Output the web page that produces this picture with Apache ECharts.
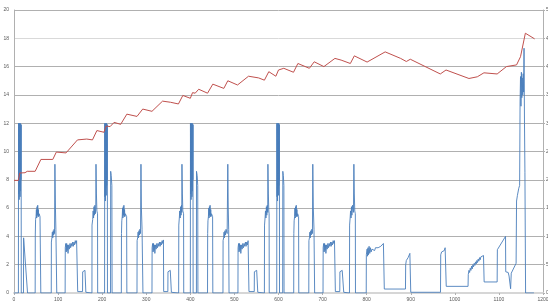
<!DOCTYPE html>
<html>
<head>
<meta charset="utf-8">
<script src="https://cdn.jsdelivr.net/npm/echarts@6/dist/echarts.min.js"></script>
<style>
html, body { margin: 0; padding: 0; background: #fff; }
#chart { width: 548px; height: 307px; }
</style>
</head>
<body>
<div id="chart"></div>
<script>
// tick labels
var leftTicks = [0, 20, 2];      // min, max, step (left axis)
var rightTicks = [0, 50, 5];     // min, max, step (right axis, labels cut off at the edge)
var timeTicks = [0, 1200, 100];

// blue trace, [time s, value] on left axis
var blueSeries = [
    [0,0],[10,0],[10.3,12],[10.8,7],[11.3,11.9],[11.8,6.6],[12.3,12],[12.8,7.5],[13.3,11.9],[13.8,6.8],[14.3,12],[14.8,7.2],[15.3,11.9],[15.8,8],[16.2,11.9],[16.5,0],
    [21.5,0],[21.8,3.9],[30.7,0],
    [48,0],[48.3,4.1],[49,5.2],[50,5.4],[50.8,5.9],[51.5,5.3],[52.3,6.1],[53,5.5],[53.8,6.2],[54.5,5.4],[55.3,5.9],[56,5.4],[57,5.6],[58,5.5],[59,5.4],[60.5,5.4],[60.8,0],
    [84.5,0],[84.8,3.6],[86,3.9],[87,4.3],[88,3.9],[89,4.4],[90,4.1],[91,4.5],[92,4.2],[92.8,9.1],[94,6],[95,4.5],[97,0],
    [116,0],[116.3,3.2],[117.5,3.5],[118.5,2.9],[119.5,3.5],[120.5,3.0],[121.5,3.4],[122.5,2.8],[124,3.4],[125.5,3.1],[127,3.5],[128.5,3.2],[130,3.5],[131.5,3.3],[133,3.6],[134.5,3.3],[136,3.6],[137.5,3.4],[139,3.7],[140.5,3.5],[142,3.7],[144,3.75],[144.5,0.1],
    [155.5,0.1],[155.8,1.5],[157,1.6],[159,1.55],[161,1.6],[162.5,1.5],[163,0.05],
    [176.8,0],[177,4.8],[178.5,5.2],[179.5,5.8],[180.5,5.3],[181.5,6.1],[182.5,5.5],[183.5,6.2],[184.5,5.6],[185.5,6],[186,9.1],[187,7],[188,5.8],[189.5,5.6],[189.8,0],

    [205.5,0],[205.8,12],[206.3,6.8],[206.8,11.9],[207.3,6.5],[207.8,12],[208.3,7.4],[208.8,11.9],[209.3,6.9],[209.8,12],[210.3,7.6],[210.8,11.9],[211.3,8],[211.7,11.9],[212,0],
    [219,0],[219.3,8.6],[220.5,8.3],[222,7.6],[222.5,0],
    [243.5,0],[243.8,4.2],[244.5,5.1],[245.5,5.4],[246.3,6.0],[247,5.3],[247.8,6.1],[248.5,5.5],[249.3,6.2],[250,5.4],[250.8,5.9],[251.5,5.4],[252.5,5.6],[253.5,5.5],[255.5,5.4],[256,0],
    [279,0],[279.3,3.7],[280.5,3.9],[281.5,4.3],[282.5,3.9],[283.5,4.4],[284.5,4.1],[285.5,4.5],[287,4.2],[288,9.1],[289,6],[290.5,4.5],[292.5,0],
    [313,0],[313.3,3.2],[314.5,3.5],[315.5,2.9],[316.5,3.5],[317.5,3.0],[318.5,3.4],[319.5,2.8],[321,3.4],[322.5,3.1],[324,3.5],[325.5,3.2],[327,3.5],[328.5,3.3],[330,3.6],[331.5,3.3],[333,3.6],[334.5,3.4],[336,3.7],[337.5,3.5],[339,3.75],[339.5,0.1],
    [349,0.1],[349.3,1.5],[350.5,1.6],[352.5,1.55],[354.5,1.6],[356.5,1.5],[357,0.05],
    [373.5,0],[373.8,4.8],[375,5.3],[376,5.8],[377,5.3],[378,6.1],[379,5.5],[380,6.2],[380.5,5.7],[381,9.1],[382,7],[383,5.8],[384.7,5.6],[385,0],

    [400,0],[400.3,12],[400.8,7],[401.3,11.9],[401.8,6.6],[402.3,12],[402.8,7.5],[403.3,11.9],[403.8,6.8],[404.3,12],[404.8,7.2],[405.3,11.9],[405.7,8],[406,11.9],[406.3,0],
    [413.8,0],[414,8.6],[415.5,8.3],[416.8,7.6],[417.2,0],
    [439,0],[439.3,4.2],[440,5.1],[441,5.4],[441.8,6.0],[442.5,5.3],[443.3,6.1],[444,5.5],[444.8,6.2],[445.5,5.4],[446.3,5.9],[447,5.4],[448,5.6],[449,5.5],[450.5,5.4],[451,0],
    [474,0],[474.3,3.7],[475.5,3.9],[476.5,4.3],[477.5,3.9],[478.5,4.4],[479.5,4.1],[481,4.5],[483.5,4.2],[485,9.1],[486,6],[487,4.5],[487.8,0],
    [508,0],[508.3,3.2],[509.5,3.5],[510.5,2.9],[511.5,3.5],[512.5,3.0],[513.5,3.4],[514.5,2.8],[516,3.4],[517.5,3.1],[519,3.5],[520.5,3.2],[522,3.5],[523.5,3.3],[525,3.6],[526.5,3.3],[528,3.6],[529.5,3.4],[531,3.7],[532.5,3.75],[533,0.1],
    [545,0.1],[545.3,1.5],[546.5,1.6],[548.5,1.55],[550.5,1.6],[552.5,1.5],[553,0.05],
    [568,0],[568.3,4.8],[569.5,5.3],[570.5,5.8],[571.5,5.3],[572.5,6.1],[573.5,5.5],[574.5,6.2],[575.5,5.7],[576,9.1],[577,7],[578,5.8],[578.7,5.6],[579,0],

    [596,0],[596.3,12],[596.8,6.8],[597.3,11.9],[597.8,6.5],[598.3,12],[598.8,7.4],[599.3,11.9],[599.8,6.9],[600.3,12],[600.8,7.6],[601.3,11.9],[601.7,8],[602,11.9],[602.3,0],
    [609.5,0],[609.8,8.6],[611,8.3],[612.2,7.6],[612.6,0],
    [634.5,0],[634.8,4.2],[635.5,5.1],[636.5,5.4],[637.3,6.0],[638,5.3],[638.8,6.1],[639.5,5.5],[640.3,6.2],[641,5.4],[641.8,5.9],[642.5,5.4],[643.5,5.6],[644.5,5.5],[645.6,5.4],[646,0],
    [668.7,0],[669,3.7],[670.2,3.9],[671.2,4.3],[672.2,3.9],[673.2,4.4],[674.2,4.1],[675.5,4.5],[677,4.2],[677.8,9.1],[679,6],[680.5,4.5],[682,0],
    [701,0],[701.3,3.2],[702.5,3.5],[703.5,2.9],[704.5,3.5],[705.5,3.0],[706.5,3.4],[707.5,2.8],[709,3.4],[710.5,3.1],[712,3.5],[713.5,3.2],[715,3.5],[716.5,3.3],[718,3.6],[719.5,3.3],[721,3.6],[722.5,3.4],[724,3.7],[725.5,3.5],[727,3.7],[728.5,3.75],[729,0.1],
    [739,0.1],[739.3,1.5],[740.5,1.6],[742.5,1.55],[744.5,1.6],[747.5,1.5],[748,0.05],
    [761,0],[761.3,4.8],[762.5,5.3],[763.5,5.8],[764.5,5.3],[765.5,6.1],[766.5,5.5],[768,6.2],[770,5.7],[771,9.1],[772,7],[773,5.8],[774.3,5.6],[774.6,0],

    [799,0],[799.3,2.7],[801,3.1],[802,2.6],[803,3.2],[804,2.7],[805.5,3.3],[807,2.8],[808.5,3.2],[810,2.9],[812,3.1],[814,3.0],[816,3.1],[818,3.0],[820,3.2],[823,3.1],[826,3.2],[829,3.3],[832,3.3],[835,3.4],[838,3.5],[839.5,3.5],[840,0.28],
    [888,0.28],[888.5,2.0],[890,2.3],[892,2.2],[894,2.5],[896,2.6],[898,2.8],[899.5,2.85],[900,0.05],
    [967.5,0.05],[968,2.7],[970,2.9],[972,2.8],[974,3.0],[976,3.0],[978,3.2],[980,3.3],[980.5,0.47],
    [1030,0.47],[1030.5,1.3],[1032,1.6],[1033.5,1.45],[1035,1.75],[1036.5,1.6],[1038,1.9],[1039.5,1.7],[1041,2.0],[1042.5,1.85],[1044,2.1],[1045.5,1.95],[1047,2.2],[1048.5,2.05],[1050,2.3],[1051.5,2.15],[1053,2.4],[1054.5,2.25],[1056,2.5],[1057.5,2.35],[1059,2.55],[1060.5,2.45],[1062,2.6],[1063.5,2.5],[1065,2.65],[1066,2.65],[1066.5,0.78],
    [1096,0.78],[1096.5,3.06],[1115,4.0],[1115.5,1.5],[1121,1.45],[1123,1.2],[1126.5,0.3],[1128,1.4],[1139,2.1],[1140,6.5],[1142,6.9],[1145,7.4],[1147,7.6],
    [1148,13.5],[1149,15.3],[1150,13.2],[1151,15.6],[1152,13.8],[1153,15.2],[1154,14],[1155,15.5],[1156,14.2],[1157,17.3],[1158,12],[1159,8.5],[1160,8.5],[1160.5,0],[1179.5,0]
];

// red trace, [time s, value] on right axis
var redSeries = [
    [0,19.9],[10,19.9],[13,21.2],[25,21.25],[30,21.5],[48,21.5],[61,23.6],[88,23.6],[96,24.9],[118,24.75],
    [144,27.05],[165,27.2],[178,27.05],[188,28.7],[204,28.4],[209,29.5],[218,29.4],[227,30.15],[242,29.8],
    [256,31.6],[279,31.2],[292,32.5],[313,32.1],[337,33.9],[355,33.7],[373,33.4],[383,34.9],[400,34.4],
    [405,35.4],[411,35.3],[419,36.0],[439,35.3],[451,36.9],[476,36.15],[485,37.5],[507,36.75],[532,38.3],
    [555,38.0],[568,37.6],[578,39.1],[594,38.3],[600,39.4],[604,39.2],[612,39.7],[634,39.0],[644,40.55],
    [670,39.7],[681,40.85],[703,40.0],[728,41.45],[742,41.15],[763,40.55],[772,41.9],[801,40.8],[842,42.6],
    [877,41.45],[890,40.9],[899,41.3],[967,38.7],[980,39.4],[1032,37.9],[1051,38.2],[1066,38.9],[1096,38.7],
    [1117,40.0],[1140,40.3],[1149,41.75],[1160,45.9],[1181,44.9]
];

var xName = 'Tid [s]';

var chart = echarts.init(document.getElementById('chart'), null, { renderer: 'canvas' });

var labelStyle = { fontSize: 5, color: '#595959', fontFamily: 'Liberation Sans' };

chart.setOption({
    animation: false,
    backgroundColor: '#ffffff',
    grid: { left: 14, right: 5, top: 10, bottom: 14, containLabel: false, outerBoundsMode: 'none' },
    xAxis: {
        type: 'value',
        min: timeTicks[0],
        max: timeTicks[1],
        interval: timeTicks[2],
        name: xName,
        nameLocation: 'middle',
        nameGap: 10,
        nameTextStyle: { fontSize: 5, color: '#404040', fontFamily: 'Liberation Sans' },
        axisLine: { show: true, onZero: false, lineStyle: { color: '#d6d6d6', width: 2 } },
        axisTick: { show: true, length: 2, lineStyle: { color: '#b0b0b0' } },
        axisLabel: Object.assign({ margin: 4, formatter: function (v) { return String(v); } }, labelStyle),
        splitLine: { show: false }
    },
    yAxis: [
        {
            type: 'value',
            min: leftTicks[0],
            max: leftTicks[1],
            interval: leftTicks[2],
            axisLine: { show: true, lineStyle: { color: '#b0b0b0', width: 1 } },
            axisTick: { show: false },
            axisLabel: Object.assign({ margin: 5 }, labelStyle),
            splitLine: { show: true, lineStyle: { color: ['#d6d6d6', '#b0b0b0', '#b0b0b0', '#b0b0b0', '#b0b0b0', '#b0b0b0', '#b0b0b0', '#b0b0b0', '#b0b0b0', '#d9d9d9', '#b0b0b0'], width: 1 } }
        },
        {
            type: 'value',
            position: 'right',
            min: rightTicks[0],
            max: rightTicks[1],
            interval: rightTicks[2],
            axisLine: { show: true, lineStyle: { color: '#b0b0b0', width: 1 } },
            axisTick: { show: true, inside: false, length: 2, lineStyle: { color: '#b0b0b0' } },
            axisLabel: Object.assign({ margin: 3 }, labelStyle),
            splitLine: { show: false }
        }
    ],
    series: [
        {
            type: 'line',
            yAxisIndex: 0,
            data: blueSeries,
            showSymbol: false,
            symbol: 'none',
            lineStyle: { color: '#4a7ebb', width: 1, opacity: 0.9 },
            z: 3
        },
        {
            type: 'line',
            yAxisIndex: 1,
            data: redSeries,
            showSymbol: false,
            symbol: 'none',
            lineStyle: { color: '#c0504d', width: 1 },
            z: 4
        }
    ]
});
</script>
</body>
</html>
